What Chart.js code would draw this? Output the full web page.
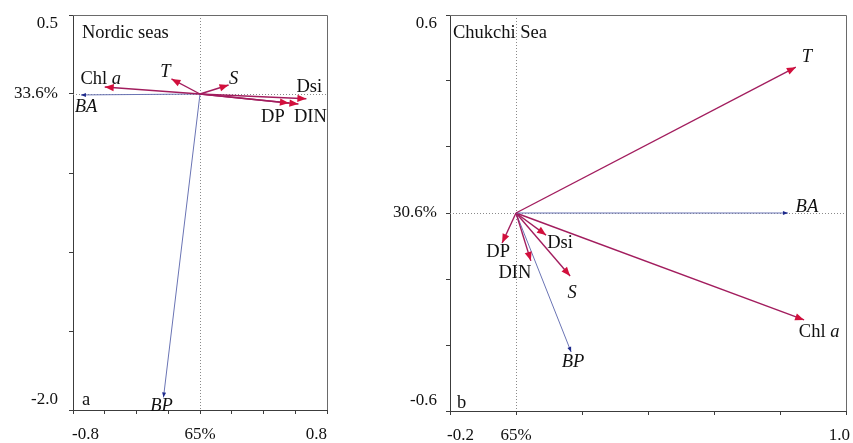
<!DOCTYPE html>
<html><head><meta charset="utf-8">
<script src="https://cdn.jsdelivr.net/npm/chart.js@4/dist/chart.umd.min.js"></script>
<style>
html,body{margin:0;padding:0;background:#fff;width:853px;height:443px;overflow:hidden}
#ca{position:absolute;left:0;top:0}
#cb{position:absolute;left:340px;top:0}
</style></head><body>
<canvas id="ca" width="340" height="443"></canvas>
<canvas id="cb" width="513" height="443"></canvas>
<script>
// ---------- DATA ----------
// Panel a: Nordic seas
const nordicVars  = ['Chl a', 'T', 'S', 'Dsi', 'DP', 'DIN', 'BA', 'BP'];
const nordicKind  = ['env', 'env', 'env', 'env', 'env', 'env', 'bac', 'bac'];
const nordicX     = [-0.60, -0.18, 0.18, 0.67, 0.56, 0.62, -0.75, -0.23];
const nordicY     = [0.044, 0.095, 0.057, -0.030, -0.057, -0.063, -0.006, -1.92];
const nordicXTicks = [-0.8, -0.6, -0.4, -0.2, 0, 0.2, 0.4, 0.6, 0.8];
const nordicYTicks = [-2.0, -1.5, -1.0, -0.5, 0, 0.5];
const nordicXLabelVals = [-0.8, 0, 0.8];
const nordicXLabelText = ['-0.8', '65%', '0.8'];
const nordicYLabelVals = [0.5, 0, -2.0];
const nordicYLabelText = ['0.5', '33.6%', '-2.0'];

// Panel b: Chukchi Sea
const chukchiVars = ['T', 'BA', 'Chl a', 'Dsi', 'DP', 'DIN', 'S', 'BP'];
const chukchiKind = ['env', 'bac', 'env', 'env', 'env', 'env', 'env', 'bac'];
const chukchiX    = [0.848, 0.824, 0.873, 0.091, -0.042, 0.045, 0.164, 0.167];
const chukchiY    = [0.442, 0.0, -0.324, -0.067, -0.091, -0.145, -0.191, -0.421];
const chukchiXTicks = [-0.2, 0, 0.2, 0.4, 0.6, 0.8, 1.0];
const chukchiYTicks = [-0.6, -0.4, -0.2, 0, 0.2, 0.4, 0.6];
const chukchiXLabelVals = [-0.2, 0, 1.0];
const chukchiXLabelText = ['-0.2', '65%', '1.0'];
const chukchiYLabelVals = [0.6, 0, -0.6];
const chukchiYLabelText = ['0.6', '30.6%', '-0.6'];

// ---------- STYLE / LAYOUT ----------
const FONT = '"Liberation Serif", "Times New Roman", serif';
const FS = 17;      // axis tick labels
const FSL = 18.5;   // in-plot labels, titles
const ENV_LINE = '#A21D5E', ENV_HEAD = '#D20F3C';
const BAC_LINE = '#6A74B4', BAC_HEAD = '#1E2A8C';
const AXIS = '#3c3c3c';
const ITALIC_NAMES = ['T', 'S', 'BA', 'BP'];

// label offsets (pixels from arrow tip to label centre)
const nordicLabelOff = [[-4,-8],[-6,-7],[5,-6],[3,-12],[-16,14],[12,13],[5,12],[-2,9]];
const chukchiLabelOff = [[11,-10],[19,-6],[15,12],[14,8],[-4,9],[-16,12],[2,17],[2,10]];

function drawName(ctx, name, cx, cy) {
  ctx.textBaseline = 'middle';
  ctx.fillStyle = '#111';
  if (name === 'Chl a') {
    ctx.font = FSL + 'px ' + FONT;
    const w1 = ctx.measureText('Chl ').width;
    ctx.font = 'italic ' + FSL + 'px ' + FONT;
    const w2 = ctx.measureText('a').width;
    const x0 = cx - (w1 + w2) / 2;
    ctx.textAlign = 'left';
    ctx.font = FSL + 'px ' + FONT;
    ctx.fillText('Chl ', x0, cy);
    ctx.font = 'italic ' + FSL + 'px ' + FONT;
    ctx.fillText('a', x0 + w1, cy);
  } else {
    ctx.font = (ITALIC_NAMES.includes(name) ? 'italic ' : '') + FSL + 'px ' + FONT;
    ctx.textAlign = 'center';
    ctx.fillText(name, cx, cy);
  }
}

function makePanel(canvasId, p) {
  const datasets = p.vars.map((n, i) => ({
    label: n,
    kind: p.kind[i],
    data: [{x: 0, y: 0}, {x: p.x[i], y: p.y[i]}],
    showLine: true,
    borderColor: p.kind[i] === 'env' ? ENV_LINE : BAC_LINE,
    borderWidth: p.kind[i] === 'env' ? 1.4 : 1.0,
    pointRadius: 0,
    fill: false
  }));

  const plugin = {
    id: 'biplot_' + canvasId,
    beforeDatasetsDraw(chart) {
      const {ctx, chartArea: a, scales: {x, y}} = chart;
      const x0 = x.getPixelForValue(0), y0 = y.getPixelForValue(0);
      ctx.save();
      ctx.strokeStyle = '#8a8a8a';
      ctx.lineWidth = 1;
      ctx.setLineDash([1, 2]);
      ctx.beginPath();
      ctx.moveTo(Math.round(x0) + 0.5, a.top);
      ctx.lineTo(Math.round(x0) + 0.5, a.bottom);
      ctx.moveTo(a.left, Math.round(y0) + 0.5);
      ctx.lineTo(a.right, Math.round(y0) + 0.5);
      ctx.stroke();
      ctx.restore();
    },
    afterDatasetsDraw(chart) {
      const {ctx, chartArea: a, scales: {x, y}} = chart;
      ctx.save();
      chart.data.datasets.forEach((ds, i) => {
        const meta = chart.getDatasetMeta(i);
        const p0 = meta.data[0], p1 = meta.data[1];
        const ang = Math.atan2(p1.y - p0.y, p1.x - p0.x);
        const env = ds.kind === 'env';
        const L = env ? 9 : 5, W = env ? 3.6 : 2;
        ctx.fillStyle = env ? ENV_HEAD : BAC_HEAD;
        ctx.beginPath();
        ctx.moveTo(p1.x, p1.y);
        ctx.lineTo(p1.x - L * Math.cos(ang) + W * Math.sin(ang), p1.y - L * Math.sin(ang) - W * Math.cos(ang));
        ctx.lineTo(p1.x - L * Math.cos(ang) - W * Math.sin(ang), p1.y - L * Math.sin(ang) + W * Math.cos(ang));
        ctx.closePath();
        ctx.fill();
        const off = p.labelOff[i];
        drawName(ctx, ds.label, p1.x + off[0], p1.y + off[1]);
      });
      // top/right frame
      ctx.strokeStyle = '#6a6a6a';
      ctx.lineWidth = 1;
      ctx.beginPath();
      ctx.moveTo(a.left, a.top + 0.5);
      ctx.lineTo(a.right + 0.5, a.top + 0.5);
      ctx.lineTo(a.right + 0.5, a.bottom);
      ctx.stroke();
      // tick labels
      ctx.fillStyle = '#111';
      ctx.font = FS + 'px ' + FONT;
      ctx.textBaseline = 'middle';
      p.xLabelVals.forEach((v, k) => {
        const px = x.getPixelForValue(v);
        if (k === 0) { ctx.textAlign = 'left'; ctx.fillText(p.xLabelText[k], px + p.xFirstShift, p.xLabelY); }
        else if (k === p.xLabelVals.length - 1) { ctx.textAlign = 'right'; ctx.fillText(p.xLabelText[k], px + p.xLastShift, p.xLabelY); }
        else { ctx.textAlign = 'center'; ctx.fillText(p.xLabelText[k], px, p.xLabelY); }
      });
      ctx.textAlign = 'right';
      p.yLabelVals.forEach((v, k) => {
        let py = y.getPixelForValue(v);
        if (v === y.max) py += 9;
        else if (v === y.min) py -= 10;
        ctx.fillText(p.yLabelText[k], p.yLabelX, py);
      });
      // title and panel letter
      ctx.font = FSL + 'px ' + FONT;
      ctx.textAlign = 'left';
      ctx.fillText(p.title, a.left + p.titleDx, a.top + 18);
      ctx.fillText(p.letter, a.left + p.letterDx, a.bottom - p.letterDy);
      ctx.restore();
    }
  };

  const axisCommon = (ticks, min, max) => ({
    type: 'linear',
    min: min, max: max,
    afterBuildTicks: s => { s.ticks = ticks.map(v => ({value: v})); },
    ticks: {display: false},
    grid: {display: true, drawOnChartArea: false, drawTicks: true, tickLength: 4, tickColor: AXIS, color: AXIS},
    border: {display: true, color: AXIS, width: 1}
  });

  const xAxis = axisCommon(p.xTicks, p.xTicks[0], p.xTicks[p.xTicks.length - 1]);
  xAxis.afterFit = s => { s.height = 4; };
  const yAxis = axisCommon(p.yTicks, p.yTicks[0], p.yTicks[p.yTicks.length - 1]);
  yAxis.afterFit = s => { s.width = 4; };

  return new Chart(document.getElementById(canvasId), {
    type: 'scatter',
    data: {datasets},
    options: {
      responsive: false,
      animation: false,
      devicePixelRatio: 1,
      layout: {padding: p.padding},
      plugins: {legend: {display: false}, tooltip: {enabled: false}, title: {display: false}},
      scales: {x: xAxis, y: yAxis}
    },
    plugins: [plugin]
  });
}

makePanel('ca', {
  vars: nordicVars, kind: nordicKind, x: nordicX, y: nordicY, labelOff: nordicLabelOff,
  xTicks: nordicXTicks, yTicks: nordicYTicks,
  xLabelVals: nordicXLabelVals, xLabelText: nordicXLabelText,
  yLabelVals: nordicYLabelVals, yLabelText: nordicYLabelText,
  padding: {left: 69, right: 13, top: 15, bottom: 29},
  xLabelY: 435, xFirstShift: -1, xLastShift: 0, yLabelX: 58,
  title: 'Nordic seas', titleDx: 9, letter: 'a', letterDx: 9, letterDy: 10
});
makePanel('cb', {
  vars: chukchiVars, kind: chukchiKind, x: chukchiX, y: chukchiY, labelOff: chukchiLabelOff,
  xTicks: chukchiXTicks, yTicks: chukchiYTicks,
  xLabelVals: chukchiXLabelVals, xLabelText: chukchiXLabelText,
  yLabelVals: chukchiYLabelVals, yLabelText: chukchiYLabelText,
  padding: {left: 106, right: 7, top: 15, bottom: 28},
  xLabelY: 436, xFirstShift: -3, xLastShift: 4, yLabelX: 97,
  title: 'Chukchi Sea', titleDx: 3, letter: 'b', letterDx: 7, letterDy: 8
});
</script>
</body></html>
